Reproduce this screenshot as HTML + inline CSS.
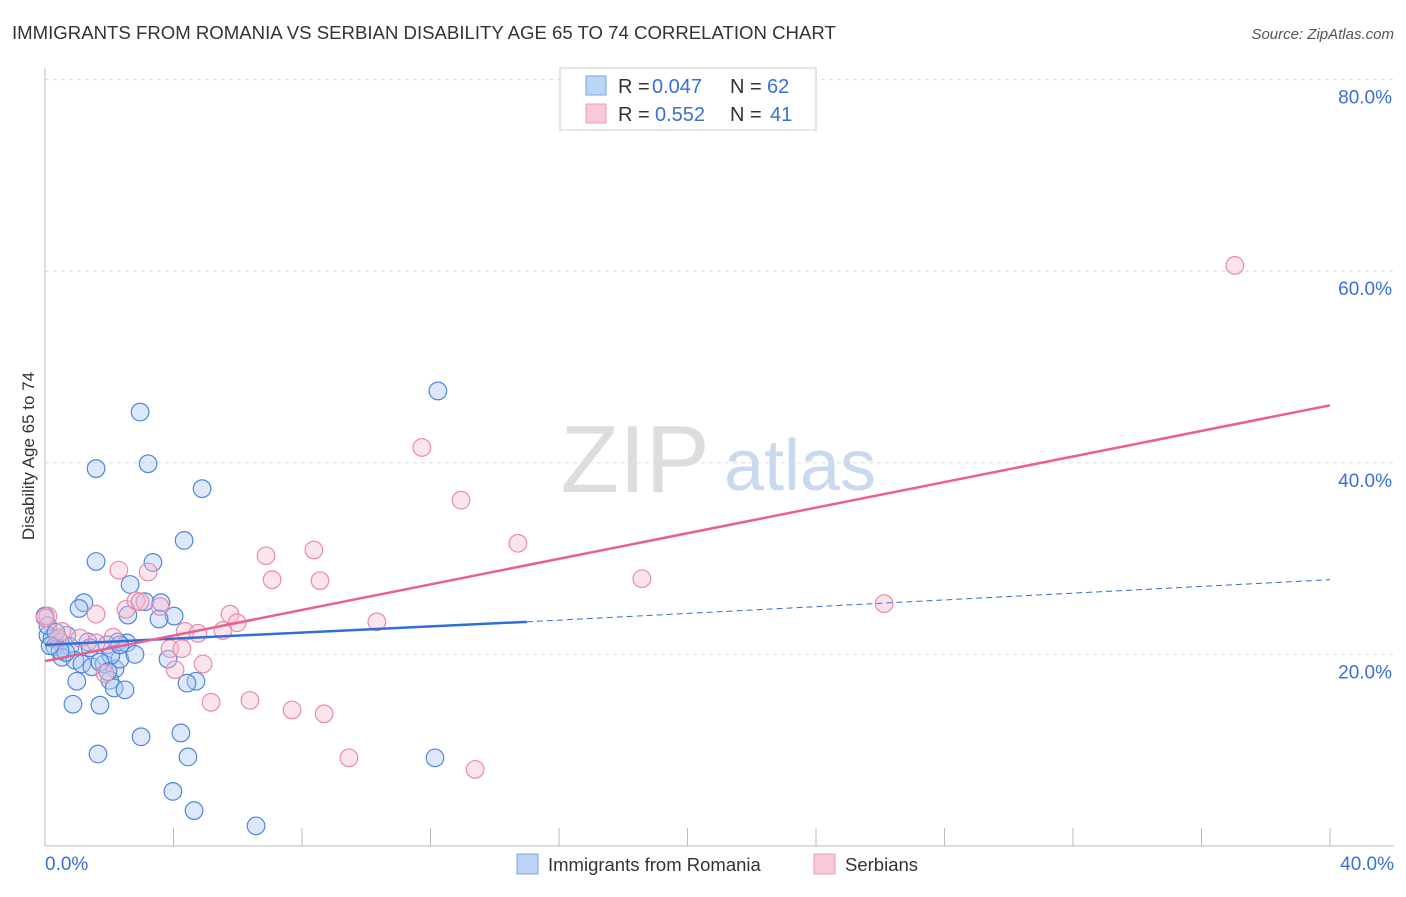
<!DOCTYPE html>
<html><head><meta charset="utf-8"><style>
body{margin:0;background:#fff;font-family:"Liberation Sans",sans-serif}
svg text{font-family:"Liberation Sans",sans-serif}
</style></head><body>
<svg id="c" width="1406" height="892">
<text x="12" y="39" font-size="18.6" fill="#333">IMMIGRANTS FROM ROMANIA VS SERBIAN DISABILITY AGE 65 TO 74 CORRELATION CHART</text>
<text x="1394" y="39" font-size="15" fill="#555" text-anchor="end" font-style="italic">Source: ZipAtlas.com</text>
<text x="34" y="456" font-size="17" fill="#333" text-anchor="middle" transform="rotate(-90 34 456)">Disability Age 65 to 74</text>
<text x="635" y="492" font-size="96" fill="#ddd" font-family="Liberation Serif" text-anchor="middle">ZIP</text>
<text x="800" y="490" font-size="72" fill="#c9d9f0" text-anchor="middle">atlas</text>
<g id="grid"></g><g id="marks"></g>
<g>
<rect x="560" y="68" width="256" height="62" fill="#fff" stroke="#ccc"/>
<rect x="586" y="76" width="20" height="19" fill="#bcd4f5" stroke="#7aa6e6"/>
<rect x="586" y="104" width="20" height="19" fill="#f9c9d8" stroke="#ee9cb8"/>
<text x="618" y="93" font-size="20" fill="#333">R =</text><text x="652" y="93" font-size="20" fill="#3a6fd8">0.047</text>
<text x="730" y="93" font-size="20" fill="#333">N =</text><text x="767" y="93" font-size="20" fill="#3a6fd8">62</text>
<text x="618" y="121" font-size="20" fill="#333">R =</text><text x="655" y="121" font-size="20" fill="#3a6fd8">0.552</text>
<text x="730" y="121" font-size="20" fill="#333">N =</text><text x="770" y="121" font-size="20" fill="#3a6fd8">41</text>
</g>
<g>
<rect x="517" y="854" width="21" height="20" fill="#bcd4f5" stroke="#7aa6e6"/>
<text x="548" y="871" font-size="18.5" fill="#333">Immigrants from Romania</text>
<rect x="814" y="854" width="21" height="20" fill="#f9c9d8" stroke="#ee9cb8"/>
<text x="845" y="871" font-size="18.5" fill="#333">Serbians</text>
</g>
</svg>
<script>
const yTicks=[20,40,60,80];
const xTickLabels=["0.0%","40.0%"];
const blueX=[2.96,1.59,3.21,4.89,4.33,1.59,3.36,12.23,2.65,1.21,1.06,3.11,3.61,2.58,4.02,3.55,0.68,1.34,2.27,2.55,1.93,0.09,0.22,0.47,0.78,0.31,0.53,0.93,1.15,1.46,1.84,2.18,2.33,2.80,2.05,3.83,0.99,2.02,4.70,4.42,2.15,2.49,0.87,1.71,2.99,4.23,1.65,4.45,12.14,3.98,4.64,6.57,0,0.09,0.34,0.65,1.40,1.71,0.47,0.16,1.96,2.33];
const blueY=[45.3,39.4,39.9,37.3,31.9,29.7,29.6,47.5,27.3,25.4,24.8,25.5,25.4,24.1,24.0,23.7,22.0,21.3,21.3,21.2,21.0,22.0,21.7,21.3,20.8,20.8,19.7,19.4,19.0,18.7,19.0,18.5,19.5,20.0,19.9,19.5,17.2,17.3,17.2,17.0,16.5,16.3,14.8,14.7,11.4,11.8,9.6,9.3,9.2,5.7,3.7,2.1,24.0,23.0,22.3,20.2,20.7,19.2,20.4,20.9,18.2,21.0];
const pinkX=[37.04,11.73,12.95,14.72,6.88,8.37,2.30,3.21,7.07,8.56,18.58,26.12,1.59,2.52,2.83,3.58,5.76,5.98,5.54,10.33,4.36,4.76,2.12,0.09,0.53,0.40,1.59,3.89,4.26,4.92,4.05,1.87,5.17,6.38,7.69,8.69,9.46,13.39,0,1.09,2.96];
const pinkY=[60.6,41.6,36.1,31.6,30.3,30.9,28.8,28.6,27.8,27.7,27.9,25.3,24.2,24.7,25.6,25.0,24.2,23.3,22.5,23.4,22.4,22.2,21.8,24.0,22.4,21.7,21.2,20.6,20.6,19.0,18.4,18.0,15.0,15.2,14.2,13.8,9.2,8.0,23.8,21.7,25.5];
const X0=45,X1=1330,XMAX=40,Y0=846,PXY=9.58;
const sx=v=>X0+(v/XMAX)*(X1-X0), sy=v=>Y0-v*PXY;
const NS="http://www.w3.org/2000/svg";
function mk(t,a,p){const e=document.createElementNS(NS,t);for(const k in a)e.setAttribute(k,a[k]);p.appendChild(e);return e;}
const grid=document.getElementById('grid'),marks=document.getElementById('marks');
yTicks.forEach(t=>{
 const l=mk('line',{x1:45,x2:1394,y1:sy(t),y2:sy(t),stroke:'#ddd','stroke-dasharray':'4,4'},grid);
 
 
 const tx=mk('text',{x:1392,y:sy(t)+24,'font-size':19,fill:'#3a6fd8','text-anchor':'end'},grid);tx.textContent=t.toFixed(1)+'%';
 
 
});
const ax=mk('line',{x1:45,x2:1394,y1:846,y2:846,stroke:'#bbb'},grid);


const ay=mk('line',{x1:45,x2:45,y1:68,y2:846,stroke:'#bbb'},grid);


for(let i=1;i<=10;i++){const x=sx(i*4);const t=mk('line',{x1:x,x2:x,y1:828,y2:846,stroke:'#bbb'},grid);
 
 }
[[0,'start',45],[40,'end',1394]].forEach((d,i)=>{const t=mk('text',{x:d[2],y:870,'font-size':19,fill:'#3a6fd8','text-anchor':d[1]},grid);t.textContent=xTickLabels[i];
 
 });
function dots(xs,ys,fill,stroke,name){xs.forEach((v,i)=>{const c=mk('circle',{cx:sx(v),cy:sy(ys[i]),r:8.8,fill:fill,'fill-opacity':0.4,stroke:stroke,'stroke-width':1.2},marks);
 
 });}
dots(blueX,blueY,'#a9c8f2','#4f86dd','point-romania');
dots(pinkX,pinkY,'#f7bcd0','#ea8aab','point-serbian');
const bl=mk('line',{x1:sx(0),y1:sy(21.0),x2:sx(15),y2:sy(23.4),stroke:'#2f6fd6','stroke-width':2.5},marks);


const bd=mk('line',{x1:sx(15),y1:sy(23.4),x2:sx(40),y2:sy(27.8),stroke:'#2f6fd6','stroke-width':1,'stroke-dasharray':'6,4'},marks);


const pl=mk('line',{x1:sx(0),y1:sy(19.3),x2:sx(40),y2:sy(46.0),stroke:'#e8608f','stroke-width':2.5},marks);


</script>
</body></html>
